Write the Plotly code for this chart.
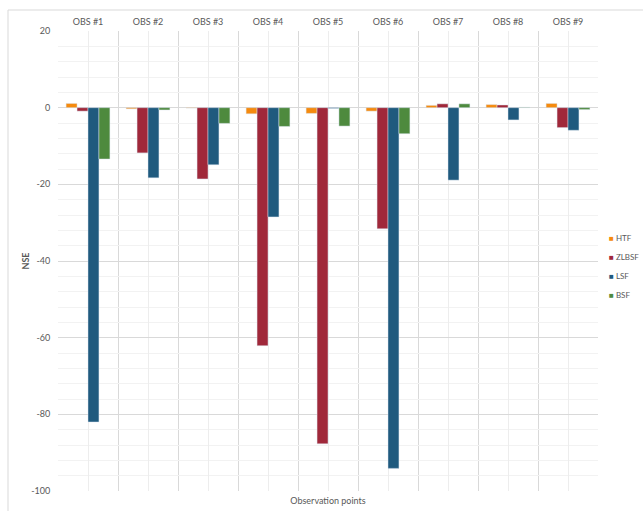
import plotly.graph_objects as go

# Observation points and NSE per method
stations = ["OBS #1", "OBS #2", "OBS #3", "OBS #4", "OBS #5", "OBS #6", "OBS #7", "OBS #8", "OBS #9"]
htf = [1.1, -0.3, -0.1, -1.6, -1.5, -0.9, 0.6, 0.8, 1.1]
zlbsf = [-0.9, -11.8, -18.6, -62.1, -87.7, -31.6, 1.0, 0.7, -5.2]
lsf = [-82.0, -18.3, -14.9, -28.5, -0.2, -94.1, -18.9, -3.2, -5.9]
bsf = [-13.4, -0.6, -4.1, -4.9, -4.8, -6.8, 1.0, 0.1, -0.5]

series_names = ["HTF", "ZLBSF", "LSF", "BSF"]
series_values = [htf, zlbsf, lsf, bsf]
series_colors = ["#F58A0E", "#A0283A", "#1F5A7E", "#4E8A3E"]

y_ticks = [20, 0, -20, -40, -60, -80, -100]
y_tick_labels = ["20", "0", "-20", "-40", "-60", "-80", "-100"]

font_family = "Lato, 'Open Sans', sans-serif"
text_color = "#595959"

W, H = 643, 511
ML, MT, MB = 58, 31, 20
plot_right = 598                      # right edge of the bar area in px
paper_w = W - ML
dom_end = (plot_right - ML) / paper_w
paper_h = H - MT - MB

xpos = list(range(1, len(stations) + 1))

fig = go.Figure()
for name, vals, col in zip(series_names, series_values, series_colors):
    fig.add_trace(go.Bar(
        x=xpos, y=vals, name=name, showlegend=False,
        marker=dict(color=col, line=dict(color="rgba(220,230,240,0.8)", width=0.6)),
    ))
    # compact legend entry: coloured square key set inline with the name
    fig.add_trace(go.Scatter(
        x=[None], y=[None], mode="markers",
        name=f'<span style="color:{col}">■</span> {name}',
        marker=dict(symbol="square", size=1, color="rgba(0,0,0,0)"),
    ))

# top axis carrying the station labels
fig.add_trace(go.Scatter(x=[xpos[0]], y=[0], xaxis="x2", mode="markers",
                         marker=dict(opacity=0), showlegend=False, hoverinfo="skip"))

boundaries = [i + 0.5 for i in range(0, len(stations) + 1)]

def px_x(px):
    return (px - ML) / paper_w

def px_y(py):
    return (H - MB - py) / paper_h

fig.update_layout(
    width=W, height=H,
    margin=dict(l=ML, r=0, t=MT, b=MB, autoexpand=False),
    paper_bgcolor="white", plot_bgcolor="white",
    font=dict(family=font_family, size=9, color=text_color),
    barmode="group", bargap=0.27, bargroupgap=0,
    xaxis=dict(
        domain=[0, dom_end],
        range=[0.5, len(stations) + 0.5],
        tickvals=xpos, ticktext=[""] * len(stations),
        showgrid=True, gridcolor="#EDEDED", gridwidth=1,
        minor=dict(tickvals=boundaries, showgrid=True, gridcolor="#D9D9D9", gridwidth=1),
        zeroline=False, showline=False, ticks="",
        title=dict(text="Observation points", standoff=6, font=dict(size=9, color=text_color)),
    ),
    xaxis2=dict(
        domain=[0, dom_end],
        overlaying="x", side="top", range=[0.5, len(stations) + 0.5],
        tickvals=xpos, ticktext=stations, showgrid=False, zeroline=False,
        ticks="outside", ticklen=1, tickcolor="rgba(0,0,0,0)",
        tickfont=dict(size=9, color=text_color),
    ),
    yaxis=dict(
        range=[-100, 20], tickvals=y_ticks, ticktext=y_tick_labels,
        showgrid=True, gridcolor="#D9D9D9", gridwidth=1,
        minor=dict(dtick=4, tick0=0, showgrid=True, gridcolor="#F2F2F2", gridwidth=1),
        zeroline=True, zerolinecolor="#D9D9D9", zerolinewidth=1,
        showline=False, ticks="outside", ticklen=5, tickcolor="rgba(0,0,0,0)",
        title=dict(text="<b>NSE</b>", standoff=0, font=dict(size=9, color=text_color)),
    ),
    legend=dict(
        x=px_x(569), y=px_y(223), xanchor="left", yanchor="top",
        font=dict(size=8, color=text_color), bgcolor="rgba(0,0,0,0)",
        itemwidth=30, tracegroupgap=0,
    ),
    shapes=[
        dict(type="line", xref="paper", yref="paper", x0=px_x(8), x1=1.0, y0=px_y(10), y1=px_y(10),
             line=dict(color="#D9D9D9", width=1)),
        dict(type="line", xref="paper", yref="paper", x0=px_x(8), x1=px_x(8), y0=px_y(10), y1=px_y(511),
             line=dict(color="#D9D9D9", width=1)),
    ],
)

fig.write_html("out.html")
